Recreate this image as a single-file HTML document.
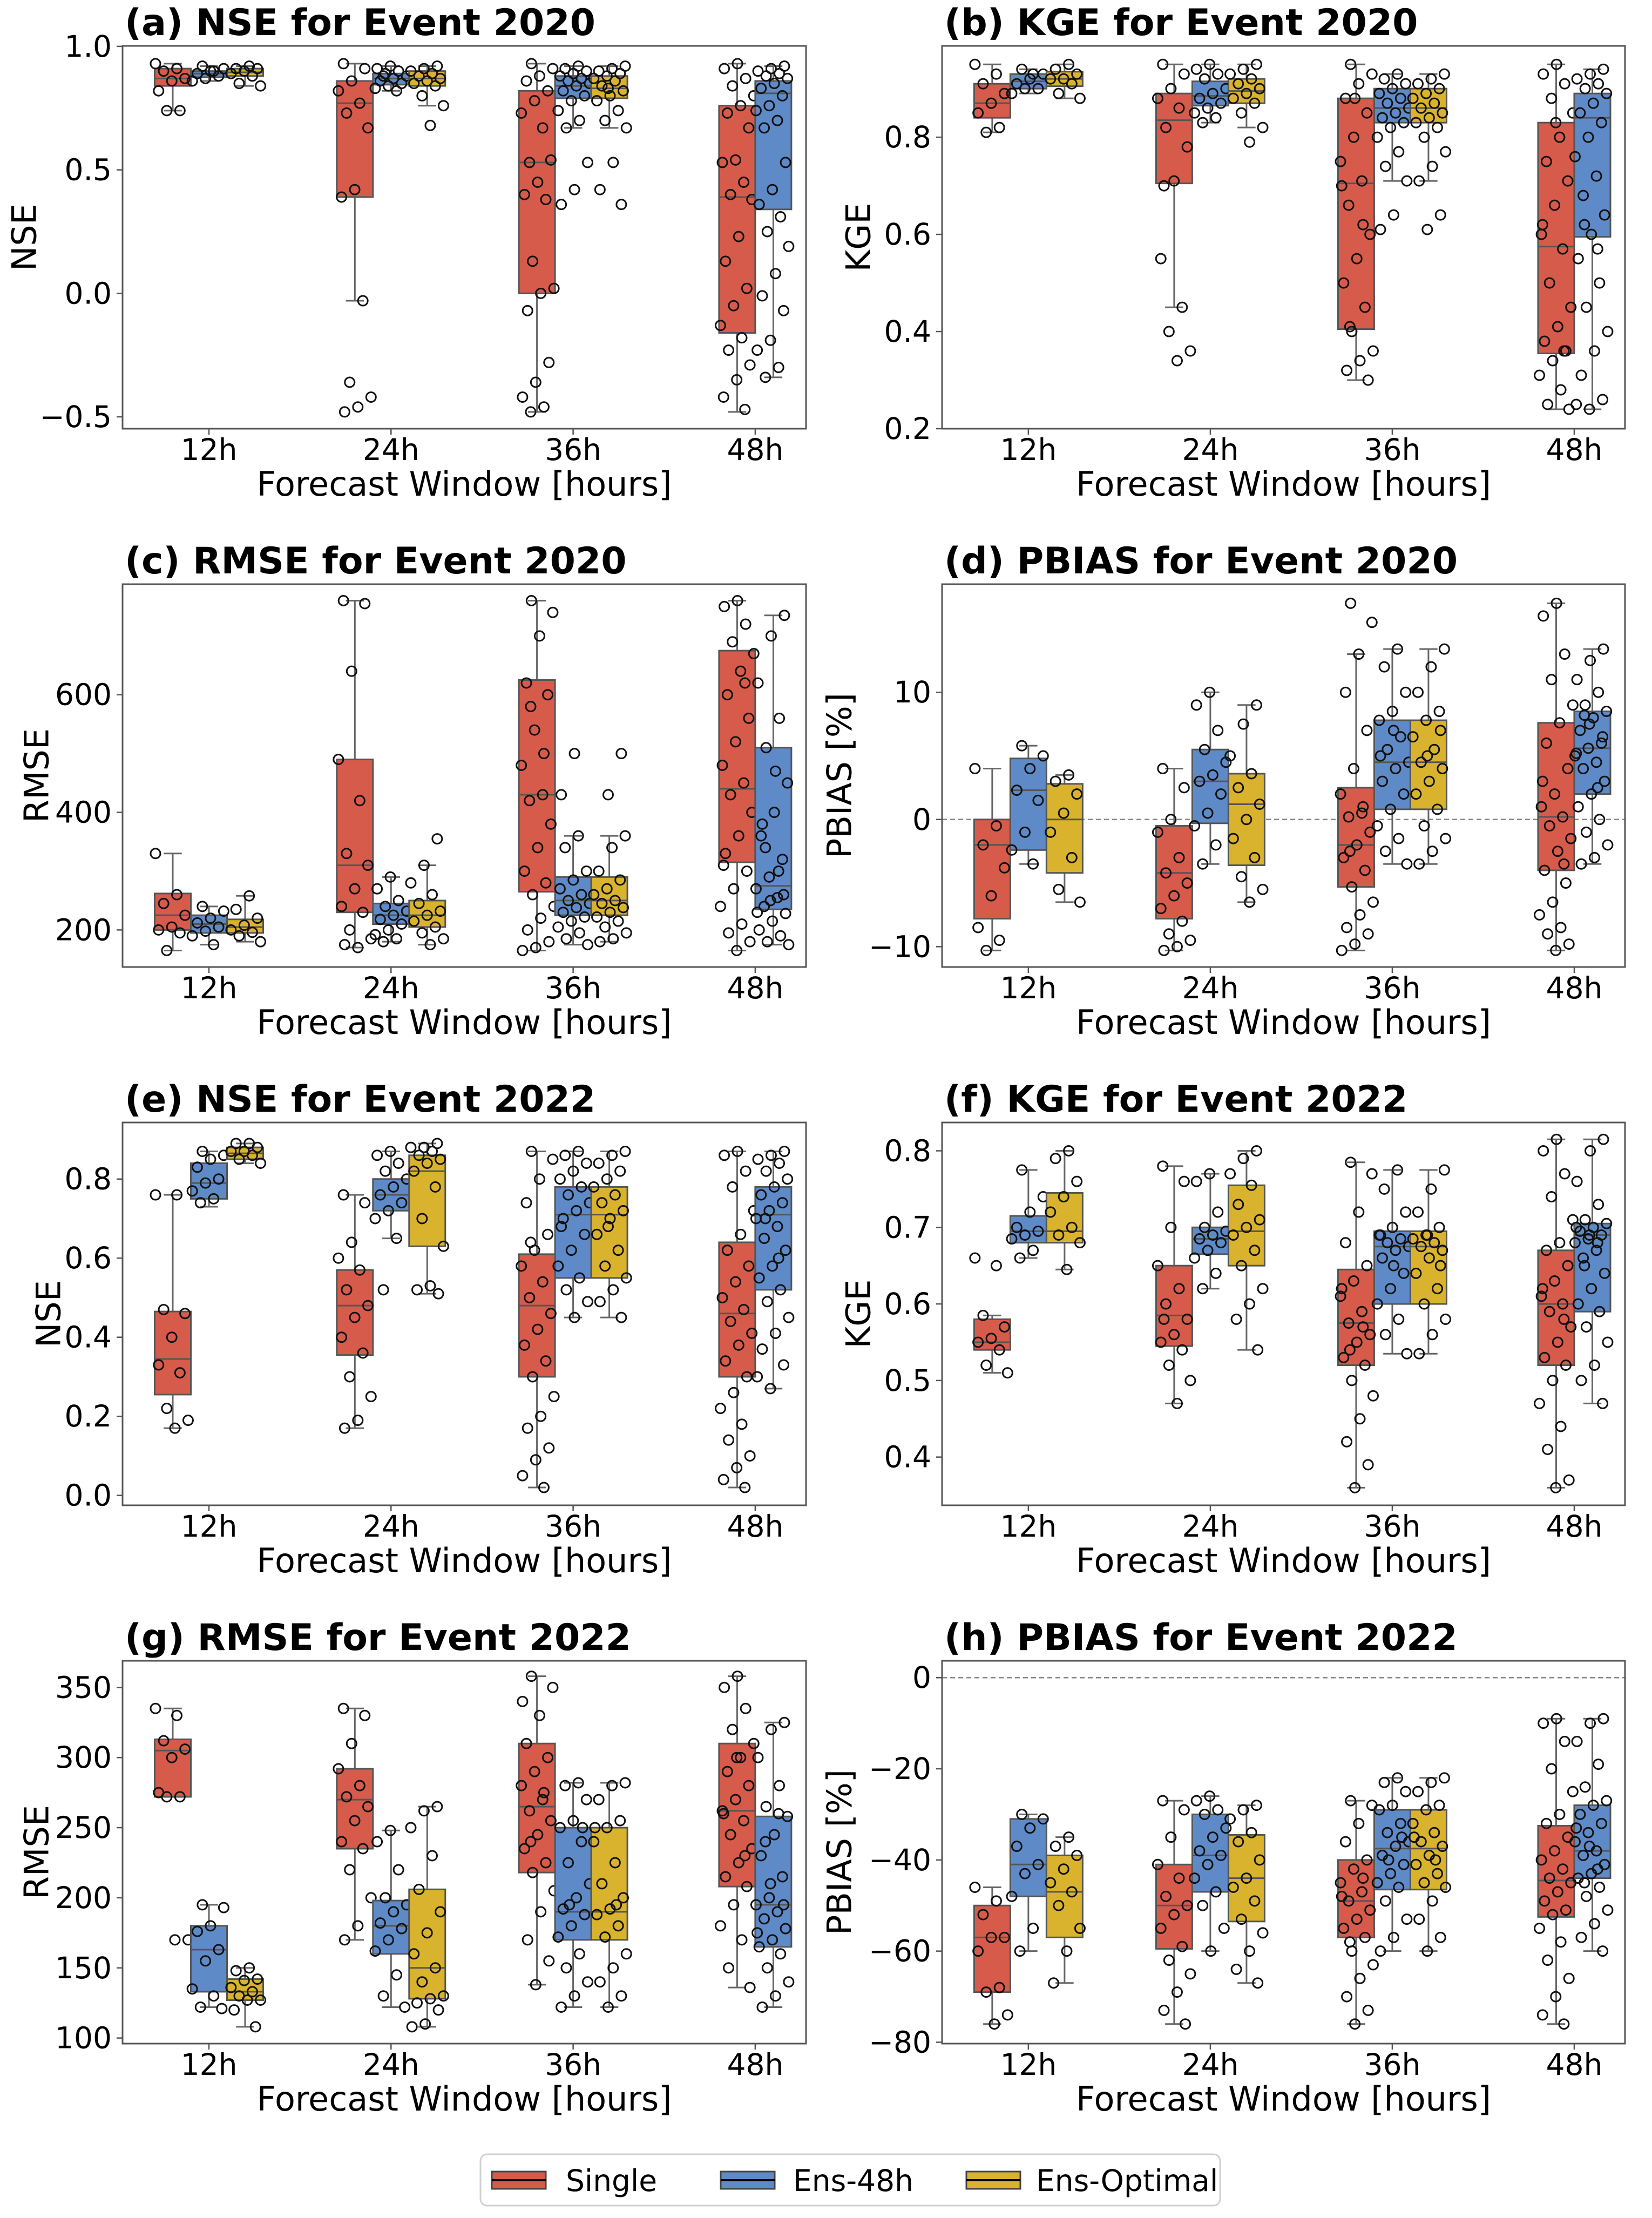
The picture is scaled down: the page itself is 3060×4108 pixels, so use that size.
<!DOCTYPE html>
<html><head><meta charset="utf-8"><style>
html,body{margin:0;padding:0;background:#fff}
svg{display:block}
text{font-family:"DejaVu Sans","Liberation Sans",sans-serif;fill:#000}
</style></head><body>
<svg id="fig" xmlns="http://www.w3.org/2000/svg" width="3060" height="4108" viewBox="0 0 3060 4108"></svg>
<script>
// ---------- categories & series ----------
const categories = ["12h","24h","36h","48h"];
const seriesNames = ["Single","Ens-48h","Ens-Optimal"];
// stats: [whiskerLow, q1, median, q3, whiskerHigh]
const aS=[[0.74,0.84,0.87,0.91,0.93],[-0.03,0.39,0.77,0.86,0.93],[-0.48,0.0,0.53,0.82,0.93],[-0.48,-0.16,0.39,0.76,0.93]];
const aE=[[0.86,0.875,0.89,0.90,0.92],[0.82,0.845,0.87,0.89,0.92],[0.67,0.79,0.84,0.88,0.92],[-0.34,0.34,0.81,0.86,0.92]];
const aO=[[0.84,0.88,0.895,0.91,0.92],[0.76,0.84,0.87,0.90,0.92],[0.67,0.79,0.83,0.88,0.92]];
const aSp=[[0.93,0.91,0.90,0.87,0.86,0.82,0.74,0.74],[0.93,0.91,0.86,0.82,0.77,0.73,0.67,0.42,0.39,-0.03,-0.36,-0.42,-0.46,-0.48],[0.93,0.91,0.88,0.86,0.82,0.78,0.73,0.67,0.53,0.54,0.45,0.40,0.38,0.13,0.02,0.0,-0.07,-0.28,-0.36,-0.42,-0.46,-0.48],[0.93,0.91,0.87,0.84,0.80,0.76,0.73,0.67,0.54,0.53,0.45,0.40,0.38,0.23,0.13,0.02,-0.05,-0.13,-0.18,-0.23,-0.29,-0.35,-0.42,-0.47]];
const aEp=[[0.92,0.91,0.90,0.89,0.88,0.87,0.86,0.9],[0.92,0.91,0.90,0.89,0.88,0.87,0.86,0.85,0.84,0.83,0.82,0.88],[0.92,0.91,0.90,0.89,0.88,0.87,0.86,0.85,0.84,0.82,0.80,0.78,0.74,0.70,0.67,0.53,0.42,0.36],[0.92,0.91,0.90,0.89,0.88,0.87,0.85,0.83,0.80,0.76,0.74,0.70,0.67,0.53,0.42,0.36,0.31,0.25,0.19,0.08,-0.01,-0.07,-0.19,-0.23,-0.30,-0.34]];
const aOp=[[0.92,0.91,0.91,0.90,0.89,0.88,0.85,0.84],[0.92,0.91,0.90,0.89,0.88,0.87,0.86,0.85,0.84,0.80,0.76,0.68],[0.92,0.91,0.90,0.89,0.88,0.87,0.86,0.84,0.82,0.80,0.78,0.74,0.70,0.67,0.53,0.42,0.36,0.83]];

const bS=[[.81,.84,.87,.91,.95],[.45,.705,.835,.89,.95],[.30,.405,.705,.88,.95],[.24,.355,.575,.83,.95]];
const bE=[[.89,.90,.915,.93,.94],[.83,.865,.885,.915,.95],[.71,.83,.86,.90,.93],[.24,.595,.84,.89,.94]];
const bO=[[.88,.905,.92,.935,.95],[.82,.87,.895,.92,.95],[.71,.83,.86,.90,.93]];
const bSp=[[.95,.93,.91,.89,.87,.85,.82,.81],[.95,.93,.90,.88,.86,.82,.78,.71,.55,.45,.40,.36,.34,.70],[.95,.93,.91,.88,.85,.80,.75,.71,.66,.60,.55,.50,.45,.40,.36,.34,.32,.30,.88,.70,.62,.41],[.95,.93,.91,.88,.85,.80,.75,.71,.66,.60,.57,.50,.45,.41,.38,.36,.34,.31,.28,.25,.24,.83,.62,.36]];
const bEp=[[.94,.93,.92,.91,.90,.90,.89,.93],[.95,.94,.93,.92,.90,.89,.88,.87,.86,.85,.84,.83],[.93,.92,.91,.90,.89,.88,.87,.86,.85,.84,.83,.82,.80,.77,.74,.71,.64,.61],[.94,.93,.92,.91,.90,.89,.87,.85,.83,.80,.76,.72,.68,.64,.60,.55,.50,.45,.40,.36,.31,.26,.24,.25,.57,.62]];
const bOp=[[.95,.94,.93,.92,.92,.91,.89,.88],[.95,.94,.93,.92,.91,.90,.89,.88,.87,.85,.82,.79],[.93,.92,.91,.90,.89,.88,.87,.86,.85,.84,.83,.82,.80,.77,.74,.71,.64,.61]];

const cS=[[165,200,225,262,330],[170,230,310,490,760],[165,265,430,625,760],[165,315,440,675,760]];
const cE=[[175,195,210,225,240],[180,210,225,245,290],[175,225,250,290,360],[175,235,275,510,735]];
const cO=[[180,195,205,218,258],[175,205,225,250,310],[180,225,250,290,360]];
const cSp=[[330,260,245,225,205,200,195,165],[760,755,640,490,420,330,310,270,240,230,200,185,170,175],[760,740,700,620,600,540,480,430,420,380,340,300,280,260,240,220,200,180,170,165,500,580],[760,750,720,690,670,640,600,560,520,480,450,430,400,360,330,300,270,240,210,195,180,165,310,620]];
const cEp=[[240,232,220,212,205,198,190,175],[290,270,250,240,232,225,218,210,200,192,185,180],[360,340,300,285,270,260,250,245,238,230,222,215,205,195,185,175,500,430],[735,700,620,560,510,450,400,360,320,290,270,255,240,228,215,200,190,180,175,470,380,260,250,230,300,340]];
const cOp=[[258,235,220,208,200,196,190,180],[355,310,280,260,245,232,225,215,205,195,185,175],[360,340,300,285,270,260,250,245,238,230,222,215,205,195,185,180,500,430]];

const dS=[[-10.3,-7.8,-2.0,0.0,4.0],[-10.3,-7.8,-4.2,-0.5,4.0],[-10.3,-5.3,-2.0,2.5,13.0],[-10.3,-4.0,0.2,7.6,17.0]];
const dE=[[-3.5,-2.4,2.3,4.8,5.8],[-3.5,-0.3,3.0,5.5,10.0],[-3.5,0.8,4.5,7.8,13.4],[-3.5,2.0,5.6,8.5,13.4]];
const dO=[[-6.5,-4.2,0.0,2.8,3.5],[-6.5,-3.6,1.2,3.6,9.0],[-3.5,0.8,4.5,7.8,13.4]];
const dSp=[[4.0,-0.5,-2.0,-3.8,-6.0,-8.5,-9.5,-10.3],[4.0,2.5,0.0,-1.0,-3.0,-4.2,-5.0,-6.0,-7.0,-8.0,-9.0,-9.5,-10.0,-10.3],[17.0,15.5,13.0,10.0,7.0,4.0,2.0,0.5,0.2,-1.0,-2.0,-3.0,-4.0,-5.3,-6.5,-7.5,-8.5,-9.0,-9.8,-10.3,1.0,-2.5],[17.0,16.0,13.0,11.0,9.0,7.6,6.0,4.0,2.0,1.0,0.2,-0.5,-1.5,-2.5,-4.0,-5.0,-6.5,-7.5,-8.5,-9.0,-9.8,-10.3,3.0,-3.5]];
const dEp=[[5.8,5.0,4.0,2.3,1.5,-1.0,-2.4,-3.5],[10.0,9.0,7.0,5.5,4.5,3.5,3.0,2.0,0.5,-0.5,-2.0,-3.5],[13.4,12.0,10.0,8.5,7.8,6.5,5.5,4.5,4.0,3.0,2.0,0.8,-0.5,-1.5,-2.5,-3.5,7.0,5.0],[13.4,12.5,11.0,10.0,9.0,8.5,8.0,7.0,6.0,5.6,5.0,4.5,4.0,3.0,2.0,1.0,0.0,-1.0,-2.0,-3.0,-3.5,6.5,7.5,5.2,2.5,8.2]];
const dOp=[[3.5,3.0,2.0,0.5,-1.0,-3.0,-5.5,-6.5],[9.0,7.5,5.0,3.6,2.5,1.2,0.0,-1.5,-3.0,-4.5,-5.5,-6.5],[13.4,12.0,10.0,8.5,7.8,6.5,5.5,4.5,4.0,3.0,2.0,0.8,-0.5,-1.5,-2.5,-3.5,7.0,5.0]];

const eS=[[.17,.255,.345,.465,.76],[.17,.355,.48,.57,.76],[.02,.30,.48,.61,.87],[.02,.30,.46,.64,.87]];
const eE=[[.73,.75,.79,.84,.87],[.65,.72,.76,.80,.87],[.45,.55,.71,.78,.87],[.27,.52,.71,.78,.87]];
const eO=[[.84,.85,.865,.88,.89],[.51,.63,.82,.86,.89],[.45,.55,.71,.78,.87]];
const eSp=[[.76,.76,.47,.46,.40,.33,.31,.22,.19,.17],[.76,.74,.64,.60,.57,.52,.48,.45,.40,.36,.30,.25,.19,.17],[.87,.85,.80,.74,.66,.62,.58,.54,.50,.46,.42,.38,.34,.30,.25,.20,.17,.12,.09,.05,.02,.64],[.87,.86,.82,.78,.72,.66,.62,.58,.54,.50,.47,.44,.41,.38,.34,.30,.26,.22,.18,.14,.10,.07,.04,.02]];
const eEp=[[.87,.86,.85,.83,.80,.79,.77,.75,.74],[.87,.86,.84,.82,.80,.78,.76,.74,.72,.70,.65,.52],[.87,.86,.84,.82,.80,.78,.76,.74,.72,.70,.66,.62,.58,.55,.52,.49,.45,.68],[.87,.86,.85,.84,.82,.80,.78,.76,.74,.72,.70,.68,.65,.62,.58,.55,.52,.49,.45,.41,.37,.33,.27,.30,.60,.70]];
const eOp=[[.89,.89,.88,.87,.87,.86,.85,.84],[.89,.88,.88,.87,.86,.85,.84,.82,.78,.70,.63,.53,.52,.51],[.87,.86,.84,.82,.80,.78,.76,.74,.72,.70,.66,.62,.58,.55,.52,.49,.45,.68]];

const fS=[[.51,.54,.55,.58,.585],[.47,.545,.585,.65,.78],[.36,.52,.575,.645,.785],[.36,.52,.60,.67,.815]];
const fE=[[.66,.68,.695,.715,.775],[.62,.665,.685,.70,.77],[.535,.60,.675,.695,.775],[.47,.59,.69,.705,.815]];
const fO=[[.645,.68,.695,.745,.80],[.54,.65,.695,.755,.80],[.535,.60,.675,.695,.775]];
const fSp=[[.66,.65,.585,.57,.555,.55,.54,.52,.51],[.78,.76,.70,.65,.62,.60,.58,.56,.55,.54,.52,.50,.47,.58],[.785,.77,.72,.68,.65,.63,.61,.59,.575,.56,.55,.53,.52,.50,.48,.45,.42,.39,.36,.62,.57,.54],[.815,.80,.77,.74,.71,.68,.67,.65,.63,.61,.60,.59,.57,.55,.53,.52,.50,.47,.44,.41,.37,.36,.62,.58]];
const fEp=[[.775,.74,.72,.70,.695,.69,.685,.67,.66],[.77,.76,.72,.70,.695,.69,.685,.68,.67,.66,.64,.62],[.775,.75,.72,.70,.69,.685,.68,.675,.67,.66,.64,.62,.60,.58,.56,.535,.65,.69],[.815,.80,.76,.73,.71,.705,.70,.695,.69,.685,.68,.67,.66,.64,.62,.60,.59,.57,.55,.52,.50,.47,.69,.70,.68,.65]];
const fOp=[[.80,.79,.76,.74,.72,.70,.69,.68,.645],[.80,.79,.77,.755,.73,.71,.70,.69,.67,.65,.62,.60,.58,.54],[.775,.75,.72,.70,.69,.685,.68,.675,.67,.66,.64,.62,.60,.58,.56,.535,.65,.69]];

const gS=[[272,272,305,313,335],[170,235,270,292,335],[138,218,265,310,358],[136,208,262,310,358]];
const gE=[[122,133,163,180,195],[122,160,180,198,248],[122,170,190,250,282],[122,165,195,258,325]];
const gO=[[108,127,133,142,150],[108,128,150,206,265],[122,170,190,250,282]];
const gSp=[[335,330,312,306,300,275,272,272,170,170],[335,330,310,292,280,272,265,255,240,235,220,200,180,170],[358,350,330,310,300,290,280,270,262,255,245,235,225,218,205,190,170,155,138,340,275,240],[358,350,335,320,310,300,290,280,270,262,255,245,235,225,215,208,195,180,170,150,136,300,260,230]];
const gEp=[[195,193,180,176,163,155,135,130,122,121],[248,240,220,200,195,190,182,178,170,162,145,130,122],[282,280,270,255,250,240,225,210,200,192,188,180,172,160,150,140,130,122,250,195],[325,320,300,280,265,258,245,230,215,200,195,190,185,178,170,165,160,150,140,130,122,195,210,175,260,240]];
const gOp=[[150,148,142,141,136,133,130,127,127,120,108],[265,262,250,230,206,190,175,160,150,140,130,128,125,120,110,108],[282,280,270,255,250,240,225,210,200,192,188,180,172,160,150,140,130,122,250,195]];

const hS=[[-76,-69,-57,-50,-46],[-76,-59.5,-50,-41,-27],[-76,-57,-49,-40,-27],[-76,-52.5,-44.5,-32.5,-9]];
const hE=[[-60,-48,-41,-31,-30],[-60,-47,-39,-30,-26],[-60,-46.5,-37.5,-29,-22],[-60,-44,-38,-28,-9]];
const hO=[[-67,-57,-47,-39,-35],[-67,-53.5,-44,-34.5,-28],[-60,-46.5,-37.5,-29,-22]];
const hSp=[[-46,-49,-52,-57,-57,-60,-68,-69,-74,-76],[-27,-29,-35,-41,-44,-48,-50,-52,-55,-59,-62,-65,-69,-73,-76],[-27,-28,-32,-36,-40,-42,-45,-47,-49,-51,-53,-55,-57,-60,-63,-66,-70,-73,-76,-48,-44,-58],[-9,-10,-14,-20,-25,-30,-32,-35,-38,-40,-42,-44,-45,-47,-49,-51,-52,-55,-58,-62,-66,-70,-74,-76]];
const hEp=[[-30,-31,-33,-37,-41,-43,-48,-55,-60],[-26,-27,-29,-30,-33,-35,-38,-39,-41,-44,-47,-50,-55,-60],[-22,-23,-25,-28,-29,-32,-34,-36,-37,-39,-41,-43,-45,-46,-49,-53,-57,-60,-35,-40],[-9,-10,-14,-19,-24,-27,-28,-30,-32,-34,-36,-38,-39,-41,-43,-44,-46,-48,-51,-54,-57,-60,-37,-33,-42,-45]];
const hOp=[[-35,-37,-39,-42,-45,-47,-50,-55,-60,-67],[-28,-29,-31,-34,-36,-40,-44,-46,-49,-53,-56,-60,-64,-67],[-22,-23,-25,-28,-29,-32,-34,-36,-37,-39,-41,-43,-45,-46,-49,-53,-57,-60,-35,-40]];

// tick values & labels
const aTicks=[1.0,0.5,0.0,-0.5]; const aTickLabels=["1.0","0.5","0.0","\u22120.5"];
const bTicks=[0.8,0.6,0.4,0.2]; const bTickLabels=["0.8","0.6","0.4","0.2"];
const cTicks=[600,400,200]; const cTickLabels=["600","400","200"];
const dTicks=[10,0,-10]; const dTickLabels=["10","0","\u221210"];
const eTicks=[0.8,0.6,0.4,0.2,0.0]; const eTickLabels=["0.8","0.6","0.4","0.2","0.0"];
const fTicks=[0.8,0.7,0.6,0.5,0.4]; const fTickLabels=["0.8","0.7","0.6","0.5","0.4"];
const gTicks=[350,300,250,200,150,100]; const gTickLabels=["350","300","250","200","150","100"];
const hTicks=[0,-20,-40,-60,-80]; const hTickLabels=["0","\u221220","\u221240","\u221260","\u221280"];

// ---------- layout ----------
const NS="http://www.w3.org/2000/svg";
const svg=document.getElementById('fig');
const COLORS=["#d65b4b","#5f8ac8","#d9b32e"];
function el(tag,attrs,parent){const e=document.createElementNS(NS,tag);for(const k in attrs)e.setAttribute(k,attrs[k]);(parent||svg).appendChild(e);return e;}

const panels=[
 {id:"a",title:"(a) NSE for Event 2020",ylabel:"NSE",col:0,row:0,ylim:[-0.548,1.002],ticks:aTicks,tl:aTickLabels,S:aS,E:aE,O:aO,Sp:aSp,Ep:aEp,Op:aOp,ylx:45,zero:false},
 {id:"b",title:"(b) KGE for Event 2020",ylabel:"KGE",col:1,row:0,ylim:[0.2,0.988],ticks:bTicks,tl:bTickLabels,S:bS,E:bE,O:bO,Sp:bSp,Ep:bEp,Op:bOp,ylx:1590,zero:false},
 {id:"c",title:"(c) RMSE for Event 2020",ylabel:"RMSE",col:0,row:1,ylim:[137,788],ticks:cTicks,tl:cTickLabels,S:cS,E:cE,O:cO,Sp:cSp,Ep:cEp,Op:cOp,ylx:68,zero:false},
 {id:"d",title:"(d) PBIAS for Event 2020",ylabel:"PBIAS [%]",col:1,row:1,ylim:[-11.6,18.5],ticks:dTicks,tl:dTickLabels,S:dS,E:dE,O:dO,Sp:dSp,Ep:dEp,Op:dOp,ylx:1555,zero:true},
 {id:"e",title:"(e) NSE for Event 2022",ylabel:"NSE",col:0,row:2,ylim:[-0.025,0.943],ticks:eTicks,tl:eTickLabels,S:eS,E:eE,O:eO,Sp:eSp,Ep:eEp,Op:eOp,ylx:90,zero:false},
 {id:"f",title:"(f) KGE for Event 2022",ylabel:"KGE",col:1,row:2,ylim:[0.337,0.837],ticks:fTicks,tl:fTickLabels,S:fS,E:fE,O:fO,Sp:fSp,Ep:fEp,Op:fOp,ylx:1590,zero:false},
 {id:"g",title:"(g) RMSE for Event 2022",ylabel:"RMSE",col:0,row:3,ylim:[96,369],ticks:gTicks,tl:gTickLabels,S:gS,E:gE,O:gO,Sp:gSp,Ep:gEp,Op:gOp,ylx:68,zero:false},
 {id:"h",title:"(h) PBIAS for Event 2022",ylabel:"PBIAS [%]",col:1,row:3,ylim:[-80.3,3.7],ticks:hTicks,tl:hTickLabels,S:hS,E:hE,O:hO,Sp:hSp,Ep:hEp,Op:hOp,ylx:1555,zero:true}
];
const COLX=[227,1745], COLW=[1266,1265], ROWY=[85,1082,2079,3076], AH=709;
const BW=67;

panels.forEach(p=>{
  const L=COLX[p.col], W=COLW[p.col], T=ROWY[p.row], B=T+AH;
  const sx=W/1266;
  const y=v=>B-(v-p.ylim[0])/(p.ylim[1]-p.ylim[0])*AH;
  const xc=i=>L+(160+i*337.3)*sx;
  const g=el('g',{});
  
  
  const t=el('text',{x:L+4,y:T-20,'font-size':68,'font-weight':'bold'},g);
  t.textContent=p.title;
  
  
  if(p.zero){const z=el('line',{x1:L,x2:L+W,y1:y(0),y2:y(0),stroke:'#888','stroke-width':2.5,'stroke-dasharray':'9,6'},g);
    
    }
  categories.forEach((c,i)=>{
    const sets=[[p.S,p.Sp,0],[p.E,p.Ep,1]];
    if(i<3) sets.push([p.O,p.Op,2]);
    const n=sets.length;
    sets.forEach((s,k)=>{
      const st=s[0][i]; const pts=s[1][i];
      const cx=xc(i)+(n===3?(k-1)*BW:(k-0.5)*BW);
      const bg=el('g',{},g);
      
      
      el('line',{x1:cx,x2:cx,y1:y(st[0]),y2:y(st[1]),stroke:'#666','stroke-width':3},bg);
      el('line',{x1:cx,x2:cx,y1:y(st[3]),y2:y(st[4]),stroke:'#666','stroke-width':3},bg);
      el('line',{x1:cx-BW/4,x2:cx+BW/4,y1:y(st[0]),y2:y(st[0]),stroke:'#666','stroke-width':3},bg);
      el('line',{x1:cx-BW/4,x2:cx+BW/4,y1:y(st[4]),y2:y(st[4]),stroke:'#666','stroke-width':3},bg);
      el('rect',{x:cx-BW/2,y:y(st[3]),width:BW,height:Math.max(1,y(st[1])-y(st[3])),fill:COLORS[s[2]],stroke:'#555','stroke-width':3},bg);
      el('line',{x1:cx-BW/2,x2:cx+BW/2,y1:y(st[2]),y2:y(st[2]),stroke:'#555','stroke-width':3},bg);
      pts.forEach((v,j)=>{
        const jit=(((j*0.6180339+k*0.31+i*0.17)%1)-0.5)*64;
        const ci=el('circle',{cx:cx+jit,cy:y(v),r:9,fill:'none',stroke:'#111','stroke-width':3},bg);
        
        
      });
    });
  });
  const fr=el('rect',{x:L,y:T,width:W,height:AH,fill:'none',stroke:'#555','stroke-width':3},g);
  
  
  p.ticks.forEach((v,i)=>{
    el('line',{x1:L-11,x2:L,y1:y(v),y2:y(v),stroke:'#555','stroke-width':2.5},g);
    const tt=el('text',{x:L-20,y:y(v)+19,'font-size':55,'text-anchor':'end'},g);
    tt.textContent=p.tl[i];
    
    
  });
  categories.forEach((c,i)=>{
    el('line',{x1:xc(i),x2:xc(i),y1:B,y2:B+11,stroke:'#555','stroke-width':2.5},g);
    const tt=el('text',{x:xc(i),y:B+58,'font-size':55,'text-anchor':'middle'},g);
    tt.textContent=c;
    
    
  });
  const xl=el('text',{x:L+W/2,y:B+124,'font-size':62,'text-anchor':'middle'},g);
  xl.textContent="Forecast Window [hours]";
  
  
  const yc=T+AH/2;
  const yl=el('text',{x:p.ylx,y:yc,'font-size':62,'text-anchor':'middle','dominant-baseline':'central',transform:`rotate(-90 ${p.ylx} ${yc})`},g);
  yl.textContent=p.ylabel;
  
  
});

// legend
const lg=el('g',{});


el('rect',{x:890,y:3990,width:1370,height:95,rx:12,fill:'#fff',stroke:'#d0d0d0','stroke-width':3},lg);
const legX=[911,1335,1790], legTX=[1048,1469,1919];
seriesNames.forEach((s,i)=>{
  const e=el('g',{},lg);
  
  
  el('rect',{x:legX[i],y:4022,width:100,height:32,fill:COLORS[i],stroke:'#444','stroke-width':3},e);
  el('line',{x1:legX[i],x2:legX[i]+100,y1:4038,y2:4038,stroke:'#000','stroke-width':4},e);
  const t=el('text',{x:legTX[i],y:4058,'font-size':55},e);
  t.textContent=s;
});
</script>
</body></html>
